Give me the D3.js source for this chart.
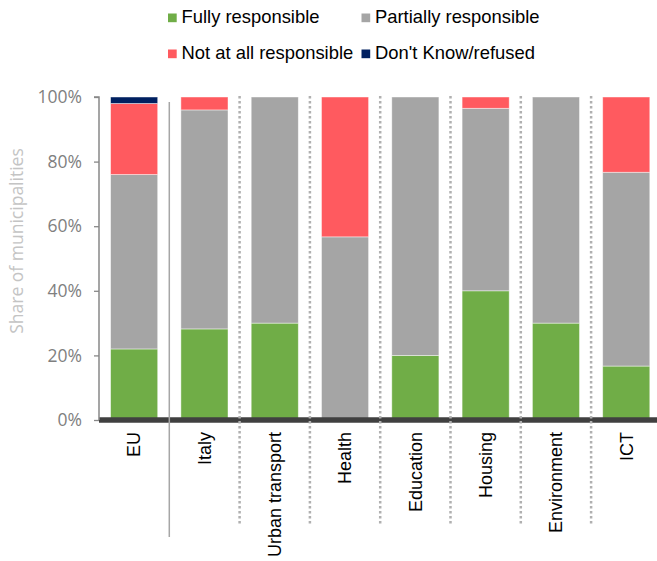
<!DOCTYPE html>
<html>
<head>
<meta charset="utf-8">
<script src="https://cdn.jsdelivr.net/npm/d3@7"></script>
<style>
  html, body { margin: 0; padding: 0; background: #fff; }
  svg { display: block; }
</style>
</head>
<body>
<svg id="chart" width="657" height="561"></svg>
<script>
// ---- data ----
const categories = ["EU", "Italy", "Urban transport", "Health", "Education", "Housing", "Environment", "ICT"];
const fullyResponsible     = [22, 28.2, 30, 0,    20, 40,   30, 16.7];
const partiallyResponsible = [54, 67.8, 70, 56.7, 80, 56.5, 70, 60];
const notAtAllResponsible  = [22, 4,    0,  43.3, 0,  3.5,  0,  23.3];
const dontKnowRefused      = [2,  0,    0,  0,    0,  0,    0,  0];
const seriesNames = ["Fully responsible", "Partially responsible", "Not at all responsible", "Don't Know/refused"];
const yTickValues = [0, 20, 40, 60, 80, 100];
const yTitle = "Share of municipalities";

const colors = ["#70AD47", "#A5A5A5", "#FF5A5F", "#002060"];

// ---- build table ----
const rows = categories.map((c, i) => ({
  cat: c,
  "Fully responsible": fullyResponsible[i],
  "Partially responsible": partiallyResponsible[i],
  "Not at all responsible": notAtAllResponsible[i],
  "Don't Know/refused": dontKnowRefused[i]
}));
const stacked = d3.stack().keys(seriesNames)(rows);

const svg = d3.select("#chart");
const x = d3.scaleBand().domain(categories).range([99, 661.4]).paddingInner(0.33).paddingOuter(0.165);
const y = d3.scaleLinear().domain([0, 100]).range([420, 97]);
const color = d3.scaleOrdinal().domain(seriesNames).range(colors);

// bars
svg.append("g").selectAll("g").data(stacked).join("g")
  .attr("fill", d => color(d.key))
  .selectAll("rect").data(d => d.filter(p => p[1] - p[0] > 0)).join("rect")
  .attr("x", d => x(d.data.cat))
  .attr("width", x.bandwidth())
  .attr("y", d => y(d[1]))
  .attr("height", d => y(d[0]) - y(d[1]))
  .attr("stroke", "#ffffff")
  .attr("stroke-opacity", 0.55)
  .attr("stroke-width", 0.8);

// thick baseline
svg.append("line")
  .attr("x1", 99).attr("x2", 657)
  .attr("y1", y(0)).attr("y2", y(0))
  .attr("stroke", "#404040").attr("stroke-width", 5.6);

// y axis
const yAxis = d3.axisLeft(y).tickValues(yTickValues).tickSize(5).tickPadding(12).tickFormat(d => d + "%");
const ya = svg.append("g").attr("transform", "translate(99,0)").call(yAxis);
ya.select(".domain").attr("stroke", "#888888").attr("stroke-width", 1.5).attr("d", `M-5,${y(100)}H0V${y(0)}`);
ya.selectAll(".tick line").attr("stroke", "#888888").attr("stroke-width", 1.3);
ya.selectAll(".tick text")
  .attr("fill", "#7f7f7f")
  .style("font-family", "'Open Sans', 'Noto Sans', sans-serif")
  .style("font-size", "17.5px");

// y title
svg.append("text")
  .attr("transform", `translate(17,241) rotate(-90)`)
  .attr("text-anchor", "middle")
  .attr("dy", "0.35em")
  .attr("fill", "#c4c4c4")
  .style("font-family", "'Open Sans', 'Noto Sans', sans-serif")
  .style("font-size", "17.5px")
  .text(yTitle);

// category labels
svg.append("g").selectAll("text").data(categories).join("text")
  .attr("transform", d => `translate(${x(d) + x.bandwidth() / 2},432) rotate(-90)`)
  .attr("text-anchor", "end")
  .attr("dy", "0.35em")
  .attr("fill", "#000")
  .style("font-family", "'Liberation Sans', Arial, sans-serif")
  .style("font-size", "18px")
  .text(d => d);

// dividers between categories
const step = x.step();
const dividers = categories.slice(0, -1).map((c, i) => ({
  pos: x(c) + x.bandwidth() + (step - x.bandwidth()) / 2,
  solid: i === 0
}));
svg.append("g").selectAll("line").data(dividers).join("line")
  .attr("x1", d => d.pos).attr("x2", d => d.pos)
  .attr("y1", d => d.solid ? 102 : 96)
  .attr("y2", d => d.solid ? 537 : 526)
  .attr("stroke", d => d.solid ? "#a6a6a6" : "#b0b0b0")
  .attr("stroke-width", d => d.solid ? 1.5 : 2.5)
  .attr("stroke-dasharray", d => d.solid ? null : "2.5,2.5");

// legend
const legendPos = [[168, 22.5], [361.5, 22.5], [168, 58.5], [361.5, 58.5]];
const lg = svg.append("g").selectAll("g").data(seriesNames).join("g")
  .attr("transform", (d, i) => `translate(${legendPos[i][0]},${legendPos[i][1]})`);
lg.append("rect").attr("x", 0).attr("y", -9).attr("width", 8.7).attr("height", 8.7)
  .attr("fill", d => color(d));
lg.append("text").attr("x", 13.5).attr("y", 0)
  .attr("fill", "#000")
  .style("font-family", "'Liberation Sans', Arial, sans-serif")
  .style("font-size", "18.4px")
  .text(d => d);
</script>
</body>
</html>
